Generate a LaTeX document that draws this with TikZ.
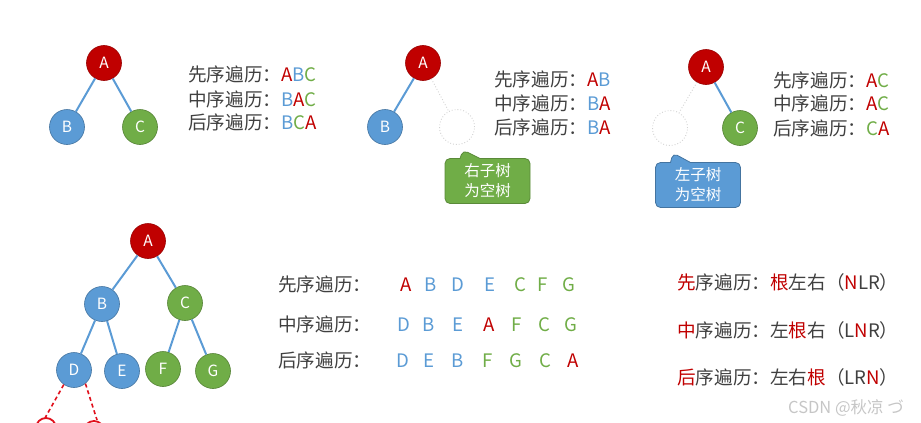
\documentclass[tikz,border=0pt]{standalone}
\usepackage{fontspec}
\setmainfont{Noto Sans CJK SC}
\usetikzlibrary{shapes.callouts}
\definecolor{rootred}{HTML}{C00000}
\definecolor{leftblue}{HTML}{5B9BD5}
\definecolor{rightgreen}{HTML}{70AD47}
\definecolor{textgray}{HTML}{404040}
\definecolor{penred}{HTML}{E0101C}
\newcommand\Rt[1]{\textcolor{rootred}{#1}}
\newcommand\Lf[1]{\textcolor{leftblue}{#1}}
\newcommand\Rg[1]{\textcolor{rightgreen}{#1}}
\begin{document}
\begin{tikzpicture}[
  x=1pt,y=-1pt,
  edge/.style={leftblue,line width=2pt},
  niledge/.style={gray!35,dotted,line width=0.9pt},
  root/.style={circle,minimum size=35pt,inner sep=0pt,fill=rootred,
    draw=rootred!80!black,line width=0.6pt,text=white,
    font=\fontsize{15.5}{15.5}\selectfont},
  lnode/.style={root,fill=leftblue,draw=leftblue!75!black},
  rnode/.style={root,fill=rightgreen,draw=rightgreen!75!black},
  nilnode/.style={circle,minimum size=35pt,inner sep=0pt,draw=gray!35,
    dotted,line width=0.9pt},
  lbl/.style={anchor=base west,inner sep=0pt,text=textgray,
    font=\fontsize{18.6}{18.6}\selectfont},
  letter/.style={anchor=base,inner sep=0pt,font=\fontsize{18.6}{18.6}\selectfont},
  note/.style={rectangle callout,rounded corners=5pt,callout pointer width=20pt,
    minimum width=85pt,minimum height=45pt,inner sep=2pt,text=white,
    align=center,font=\fontsize{15.5}{20}\selectfont,line width=0.8pt},
  pen/.style={penred,line width=1.6pt,dash pattern=on 4pt off 3pt}]
  \useasboundingbox (0,0) rectangle (921,423);
  \clip (0,0) rectangle (921,423);

  \node[root] (a1) at (104,63) {A};
  \node[lnode] (b1) at (67,127) {B};
  \node[rnode] (c1) at (140,127) {C};
  \draw[edge] (a1) -- (b1);
  \draw[edge] (a1) -- (c1);
  \node[lbl] (pre1) at (188,81) {先序遍历：\Rt{A}\Lf{B}\Rg{C}};
  \node[lbl] (in1) at (188,106) {中序遍历：\Lf{B}\Rt{A}\Rg{C}};
  \node[lbl] (post1) at (188,129) {后序遍历：\Lf{B}\Rg{C}\Rt{A}};

  \node[root] (a2) at (423,63) {A};
  \node[lnode] (b2) at (385,127) {B};
  \node[nilnode] (n2) at (457,127) {};
  \draw[edge] (a2) -- (b2);
  \draw[niledge] (a2) -- (n2);
  \node[lbl] (pre2) at (494,86) {先序遍历：\Rt{A}\Lf{B}};
  \node[lbl] (in2) at (494,110) {中序遍历：\Lf{B}\Rt{A}};
  \node[lbl] (post2) at (494,134) {后序遍历：\Lf{B}\Rt{A}};
  \coordinate (tip2) at (463,150);
  \node[note,fill=rightgreen,draw=rightgreen!80!black,
    callout absolute pointer={(tip2)}] (note2) at (487.5,181) {右子树\\为空树};

  \node[root] (a3) at (706,67) {A};
  \node[nilnode] (n3) at (670,128) {};
  \node[rnode] (c3) at (740,128) {C};
  \draw[niledge] (a3) -- (n3);
  \draw[edge] (a3) -- (c3);
  \node[lbl] (pre3) at (773,87) {先序遍历：\Rt{A}\Rg{C}};
  \node[lbl] (in3) at (773,110) {中序遍历：\Rt{A}\Rg{C}};
  \node[lbl] (post3) at (773,135) {后序遍历：\Rg{C}\Rt{A}};
  \coordinate (tip3) at (673,153);
  \node[note,fill=leftblue,draw=leftblue!75!black,
    callout absolute pointer={(tip3)}] (note3) at (698,185) {左子树\\为空树};

  \node[root] (a) at (148,241) {A};
  \node[lnode] (b) at (102,304) {B};
  \node[rnode] (c) at (185,303) {C};
  \node[lnode] (d) at (74,370) {D};
  \node[lnode] (e) at (122,371) {E};
  \node[rnode] (f) at (163,369) {F};
  \node[rnode] (g) at (213,371) {G};
  \draw[edge] (a) -- (b);
  \draw[edge] (a) -- (c);
  \draw[edge] (b) -- (d);
  \draw[edge] (b) -- (e);
  \draw[edge] (c) -- (f);
  \draw[edge] (c) -- (g);
  \coordinate (dl) at (45,418);
  \coordinate (dr) at (97,420);
  \draw[pen] (d.-125) -- (dl);
  \draw[pen] (d.-50) -- (dr);
  \draw[penred,line width=1.8pt] (46,428) circle (10pt);
  \draw[penred,line width=1.8pt] (94,431) circle (10pt);

  \node[lbl] (pre) at (278,291) {先序遍历：};
  \node[lbl] (in) at (278,331) {中序遍历：};
  \node[lbl] (post) at (278,367) {后序遍历：};
  \foreach \l/\x/\c [count=\i] in {A/406/rootred,B/431/leftblue,D/458/leftblue,
      E/490/leftblue,C/520/rightgreen,F/543/rightgreen,G/569/rightgreen}
    \node[letter,text=\c] (pl\i) at (\x,291) {\l};
  \foreach \l/\x/\c [count=\i] in {D/404/leftblue,B/429/leftblue,E/458/leftblue,
      A/489/rootred,F/517/rightgreen,C/544/rightgreen,G/571/rightgreen}
    \node[letter,text=\c] (il\i) at (\x,331) {\l};
  \foreach \l/\x/\c [count=\i] in {D/403/leftblue,E/429/leftblue,B/458/leftblue,
      F/488/rightgreen,G/516/rightgreen,C/545/rightgreen,A/573/rootred}
    \node[letter,text=\c] (ol\i) at (\x,367) {\l};

  \node[lbl] (nlr) at (677,289) {\Rt{先}序遍历：\Rt{根}左右（\Rt{N}LR）};
  \node[lbl] (lnr) at (677,337) {\Rt{中}序遍历：左\Rt{根}右（L\Rt{N}R）};
  \node[lbl] (lrn) at (677,384) {\Rt{后}序遍历：左右\Rt{根}（LR\Rt{N}）};

  \node[anchor=base west,inner sep=0pt,text=gray!45,
    font=\fontsize{16.5}{16.5}\selectfont] (mark) at (788,413) {CSDN @秋凉 づ};
\end{tikzpicture}
\end{document}
